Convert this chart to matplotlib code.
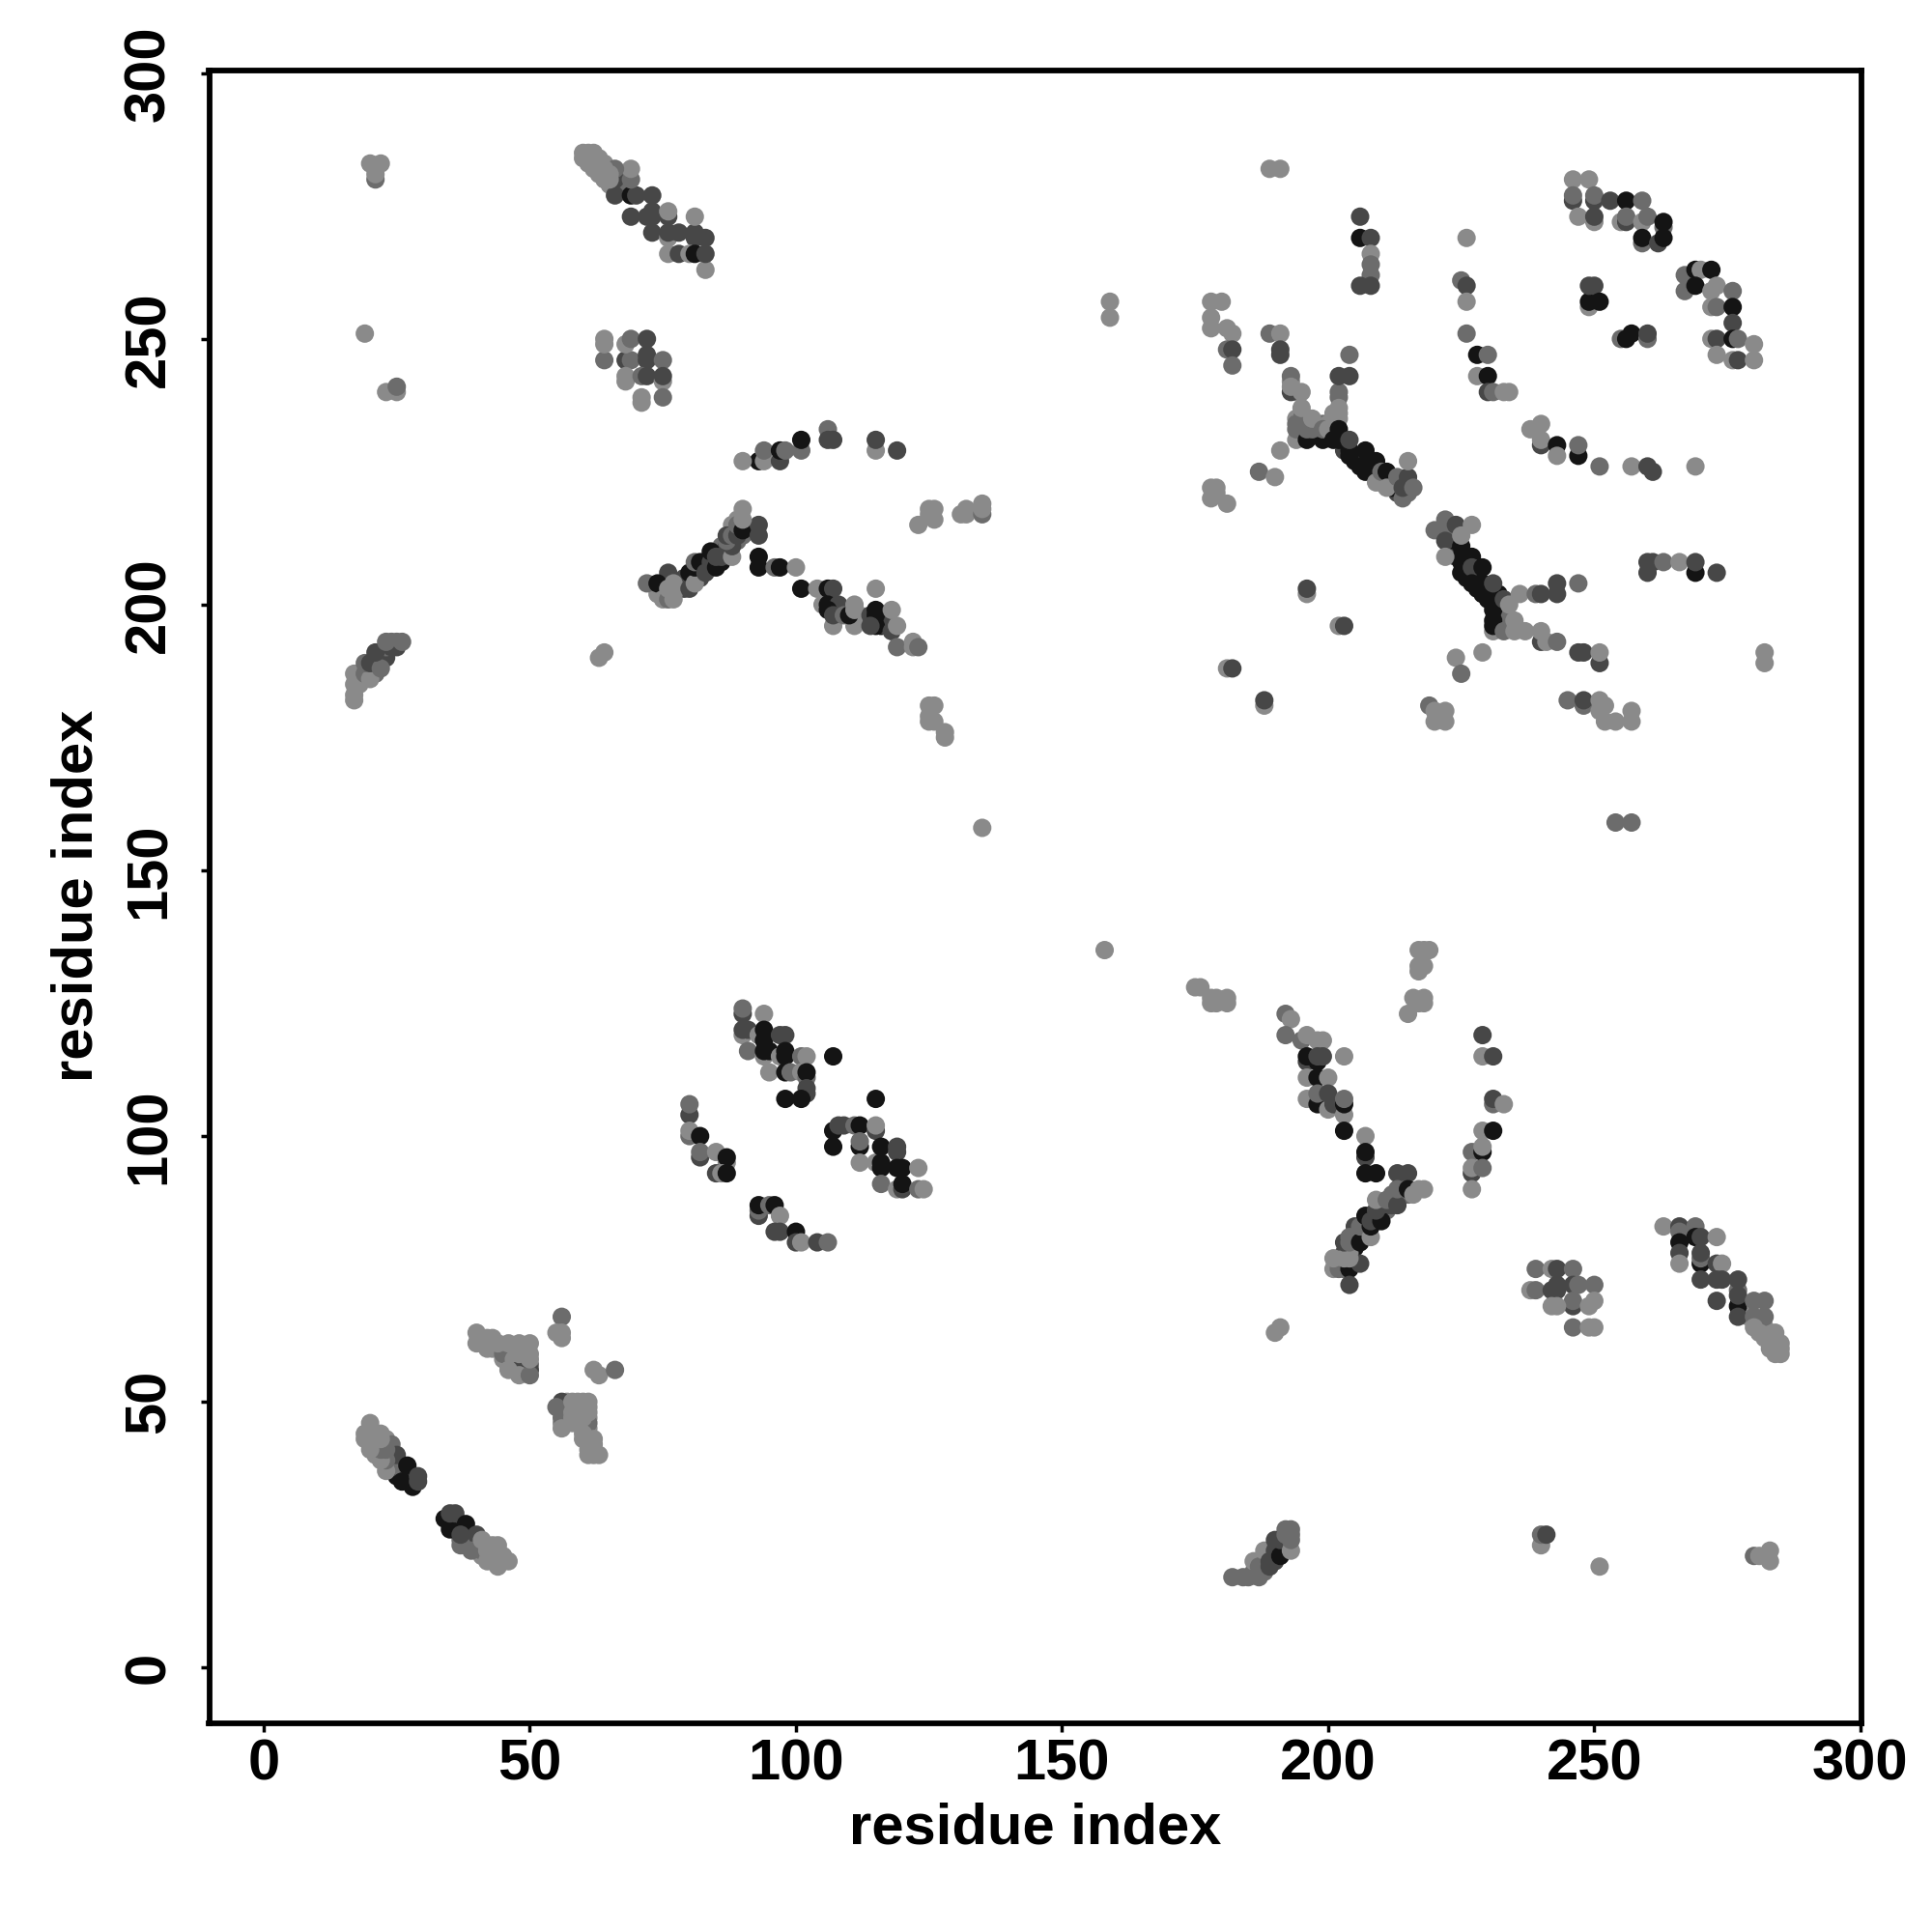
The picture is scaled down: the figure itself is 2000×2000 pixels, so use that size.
import matplotlib
matplotlib.use("Agg")
import matplotlib.pyplot as plt

# contacts per region: (residue x, residue y, tone)
# tone: L light grey, M mid grey, D dark grey, K near black
top_left_few = [(21,280,'M'),(21,281,'L'),(21,282,'L'),(20,283,'L'),(22,283,'L'),(19,251,'L'),
                (25,240,'L'),(23,240,'L'),(25,241,'M')]
top_band_fill = [(63,281,'L'),(62,282,'L'),(64,280,'L'),(66,279,'L'),(67,279,'M'),(67,281,'M'),(65,279,'L'),(63,284,'L'),(64,283,'L'),(65,282,'L')]
top_band = [(66,277,'D'),(69,277,'K'),(70,277,'D'),(73,277,'D'),(69,273,'D'),(72,273,'D'),(73,273,'D'),(73,274,'D'),
            (76,273,'D'),(76,274,'L'),(73,270,'D'),(76,269,'L'),(76,270,'D'),(78,270,'D'),(81,270,'D'),(81,269,'D'),(83,269,'D'),
            (81,273,'L'),(83,263,'L'),(76,266,'L'),(78,266,'D'),(80,266,'L'),(81,266,'K'),(83,266,'D'),
            (66,280,'D'),(69,280,'M'),(69,282,'L'),(66,282,'M'),
            (65,280,'L'),(64,281,'L'),(65,281,'L'),(63,282,'L'),(64,282,'L'),(61,283,'L'),(62,283,'L'),(63,283,'L'),
            (60,284,'L'),(61,284,'L'),(62,284,'L'),(60,285,'L'),(61,285,'L'),(62,285,'L')]
block_64_75 = [(64,246,'M'),(68,246,'D'),(69,246,'M'),(72,246,'D'),(72,247,'D'),(75,246,'M'),
               (64,249,'L'),(64,250,'L'),(68,249,'L'),(69,250,'M'),(72,250,'D'),
               (68,242,'L'),(68,243,'L'),(71,243,'M'),(72,243,'D'),(75,242,'L'),(75,243,'D'),
               (71,238,'L'),(71,239,'L'),(75,239,'M')]
arc_90_119 = [(93,227,'K'),(94,227,'L'),(90,227,'L'),(97,227,'D'),(94,229,'M'),(97,229,'K'),(98,229,'M'),(101,229,'M'),
              (101,231,'K'),(106,233,'M'),(106,231,'D'),(107,231,'D'),(115,229,'L'),(115,231,'D'),(119,229,'D')]
arch_left_fill = [(83,207,'K'),(83,208,'D'),(84,207,'K'),(84,209,'K'),(85,208,'K'),(86,208,'K'),(86,210,'D'),(86,211,'M'),(87,210,'D'),
                  (87,211,'D'),(88,212,'M'),(88,214,'M'),(89,212,'M'),(89,214,'D'),(88,215,'L'),(89,216,'L'),(90,213,'M'),(90,215,'D'),
                  (91,214,'M'),(82,205,'D'),(81,206,'M'),(79,203,'D'),(79,205,'D'),(80,204,'D'),(75,203,'D'),(74,203,'D'),(74,202,'L'),
                  (75,202,'L'),(76,202,'L'),(77,202,'L'),(77,203,'L')]
arch_left = [(72,204,'M'),(76,206,'D'),(74,204,'K'),(75,201,'L'),(76,201,'M'),(77,201,'L'),(76,203,'L'),(77,204,'L'),
             (80,203,'D'),(80,206,'K'),(81,204,'L'),(81,207,'K'),(81,208,'M'),(82,208,'K'),(83,206,'D'),
             (84,208,'D'),(84,210,'K'),(85,207,'K'),(85,209,'D'),(86,209,'D'),(88,209,'L'),(88,211,'D'),
             (87,212,'M'),(87,213,'D'),(88,213,'M'),(89,213,'D'),(89,215,'M'),(90,214,'K'),(93,215,'D'),(93,213,'D'),
             (90,216,'L'),(90,218,'L')]
arch_right_fill = [(106,201,'K'),(107,199,'K'),(106,202,'K'),(107,200,'D'),(108,199,'M'),(109,199,'D'),(114,197,'K'),(115,197,'K'),
                   (116,197,'K'),(116,196,'K'),(117,197,'D'),(117,196,'D'),(113,197,'D'),(112,198,'L')]
arch_right = [(93,209,'K'),(93,207,'K'),(96,207,'M'),(97,207,'K'),(100,207,'L'),(101,203,'K'),(104,203,'L'),
              (105,200,'L'),(106,203,'K'),(107,203,'D'),(106,200,'K'),(108,200,'D'),(106,199,'K'),(107,196,'L'),(107,198,'D'),
              (109,198,'M'),(111,196,'L'),(110,198,'K'),(111,199,'L'),(111,200,'L'),(115,203,'L'),
              (114,198,'D'),(115,199,'K'),(115,198,'K'),(115,196,'K'),(114,196,'D'),(118,195,'D'),(118,199,'L'),(119,196,'L'),
              (119,192,'M'),(122,193,'L'),(122,192,'L'),(123,192,'M')]
scatter_120_135 = [(123,215,'L'),(125,217,'L'),(125,218,'L'),(126,216,'L'),(126,218,'L'),(131,217,'L'),(132,217,'L'),(132,218,'L'),
                   (135,217,'M'),(135,218,'L'),(135,219,'L'),(63,190,'L'),(64,191,'L'),
                   (125,178,'L'),(126,178,'L'),(125,179,'L'),(125,181,'L'),(126,181,'L'),(128,175,'L'),(128,176,'L'),(135,158,'L'),
                   (159,257,'L'),(159,254,'L'),(158,135,'L')]
left_stripe_fill = [(18,186,'L'),(18,185,'L'),(18,187,'L'),(19,188,'M'),(20,188,'M'),(20,187,'M'),(21,190,'D'),(21,189,'M'),(22,190,'D'),
                    (22,191,'D'),(23,190,'D'),(23,192,'M'),(24,193,'M'),(25,193,'M'),(25,192,'D'),(21,187,'M'),(19,186,'L')]
left_stripe = [(17,182,'L'),(17,183,'L'),(17,185,'L'),(17,187,'L'),(19,187,'M'),(20,186,'L'),(19,189,'M'),(20,189,'D'),
               (22,188,'M'),(21,191,'D'),(24,192,'D'),(23,193,'M'),(26,193,'M')]
upper_far_left = [(189,282,'L'),(191,282,'L'),(178,257,'L'),(180,257,'L'),(178,254,'L'),(178,252,'L'),(181,252,'L'),(182,251,'L'),
                  (181,248,'M'),(182,248,'D'),(182,245,'M'),(178,222,'L'),(179,222,'L'),(178,220,'L'),(179,221,'L'),(181,219,'L'),
                  (187,225,'M'),(190,224,'L'),(191,229,'L'),(196,202,'L'),(196,203,'D'),(202,196,'L'),(203,196,'D'),
                  (181,188,'L'),(182,188,'D'),(188,181,'L'),(188,182,'D')]
column_206 = [(206,273,'D'),(206,269,'K'),(208,269,'D'),(208,266,'L'),(208,264,'M'),(208,262,'M'),(206,260,'D'),(208,260,'D')]
arc_226_269 = [(226,269,'L'),(225,261,'M'),(226,260,'D'),(226,257,'L'),(226,251,'M'),(228,247,'K'),(230,247,'M'),(228,243,'L'),
               (230,243,'K'),(230,240,'D'),(231,240,'M'),(233,240,'L'),(234,240,'L'),(238,233,'L'),(240,234,'L'),(240,230,'D'),(240,231,'L'),
               (243,230,'K'),(243,228,'L'),(247,228,'K'),(247,230,'M'),(251,226,'M'),(257,226,'L'),(260,226,'D'),(261,225,'D'),(269,226,'L')]
top_right_arc = [(246,280,'L'),(249,280,'L'),(246,276,'D'),(246,277,'M'),(250,276,'D'),(250,277,'M'),(253,276,'D'),(256,276,'K'),(259,276,'M'),
                 (247,273,'L'),(250,272,'L'),(250,273,'D'),(255,272,'L'),(256,272,'D'),(256,273,'M'),(259,272,'L'),(260,273,'M'),
                 (263,271,'M'),(263,272,'K'),(259,268,'M'),(259,269,'K'),(262,268,'D'),(263,269,'K'),
                 (267,262,'M'),(269,263,'K'),(270,263,'L'),(272,263,'K'),(267,259,'M'),(269,260,'K'),(272,259,'L'),(273,260,'L'),(276,259,'M'),
                 (272,256,'L'),(273,256,'M'),(276,256,'K'),(276,253,'D'),(272,250,'L'),(273,250,'D'),(276,250,'K'),(277,250,'M'),(280,249,'L'),
                 (273,247,'L'),(276,246,'L'),(277,246,'D'),(280,246,'L'),
                 (249,256,'L'),(249,257,'K'),(249,260,'D'),(250,260,'D'),(251,257,'K'),
                 (255,250,'M'),(256,250,'K'),(257,251,'K'),(260,250,'M'),(260,251,'D')]
fork_upper_fill = [(195,232,'D'),(195,233,'D'),(196,232,'K'),(197,232,'D'),(198,232,'D'),(200,232,'K'),(201,232,'K'),(194,235,'L'),(194,234,'M'),
                   (196,235,'L'),(196,234,'M'),(198,234,'L'),(199,234,'M'),(200,234,'L'),(201,235,'L'),(201,234,'L'),(202,235,'L'),(195,236,'L'),
                   (193,242,'L'),(194,240,'L')]
fork_upper = [(193,243,'M'),(193,240,'D'),(193,241,'L'),(195,240,'L'),(189,251,'M'),(191,251,'L'),(191,247,'D'),(191,248,'D'),
              (194,231,'L'),(194,233,'M'),(196,231,'K'),(199,231,'K'),(195,235,'M'),(195,237,'L'),(196,233,'M'),(197,233,'M'),(197,235,'L'),
              (199,233,'M'),(200,233,'L'),(202,240,'M'),(202,239,'M'),(201,236,'L'),(202,236,'L'),(202,237,'L'),
              (202,243,'D'),(204,243,'D'),(204,247,'M'),(202,233,'K')]
diagonal_upper_fill = [(201,231,'K'),(203,230,'K'),(203,229,'D'),(204,229,'K'),(205,228,'K'),(205,227,'K'),(206,227,'D'),(207,226,'K'),(208,226,'K'),
                       (208,225,'K'),(209,224,'K'),(210,224,'D'),(210,223,'K'),(211,224,'K'),(212,224,'D'),(212,223,'K'),(213,223,'K'),(213,221,'D'),
                       (214,221,'D'),(215,222,'D'),(215,221,'M')]
diagonal_upper = [(202,231,'K'),(204,228,'K'),(204,231,'D'),(206,226,'K'),(207,229,'K'),(207,225,'K'),(209,227,'K'),(209,223,'L'),
                  (210,225,'M'),(211,225,'K'),(212,222,'K'),(211,222,'L'),(213,224,'M'),(214,220,'M'),(214,222,'D'),(215,224,'D'),(215,227,'L'),(216,222,'M')]
diagonal_lower_fill = [(223,213,'D'),(223,211,'K'),(224,210,'K'),(224,209,'D'),(224,212,'K'),(225,209,'K'),(225,208,'K'),(226,208,'K'),(226,207,'K'),
                       (226,205,'K'),(227,206,'K'),(228,205,'K'),(228,206,'D'),(228,204,'K'),(228,203,'K'),(229,204,'K'),(229,203,'K'),(229,202,'K'),
                       (230,203,'K'),(230,202,'K'),(230,201,'K'),(232,202,'K'),(232,200,'D'),(232,198,'M'),(232,196,'D'),(233,197,'D'),(233,199,'M'),
                       (234,197,'M'),(231,197,'K'),(231,200,'K')]
diagonal_lower = [(220,214,'M'),(222,214,'M'),(222,216,'M'),(224,215,'D'),(222,212,'D'),(227,215,'L'),(222,209,'L'),(225,211,'K'),(225,213,'L'),
                  (225,206,'K'),(227,209,'K'),(227,207,'D'),(227,204,'K'),(229,207,'K'),(231,195,'L'),(231,196,'K'),(231,199,'K'),(231,202,'K'),(231,204,'D'),
                  (233,195,'M'),(233,201,'D'),(234,200,'L'),(236,202,'L'),(235,197,'L'),(235,195,'L'),(237,195,'L'),
                  (240,193,'D'),(240,195,'L'),(241,193,'L'),(243,193,'M'),(239,202,'M'),(240,202,'D'),(243,204,'D'),(243,202,'D'),(247,204,'M')]
right_of_diagonal = [(247,191,'D'),(248,191,'D'),(251,189,'D'),(251,191,'L'),
                     (260,206,'D'),(260,208,'D'),(261,208,'D'),(263,208,'M'),(266,208,'L'),(269,206,'K'),(269,208,'D'),(273,206,'D'),
                     (224,190,'L'),(229,191,'L'),(225,187,'M'),
                     (219,181,'M'),(220,178,'L'),(222,178,'L'),(220,180,'L'),(222,180,'L'),
                     (245,182,'M'),(248,181,'M'),(248,182,'D'),(251,180,'L'),(251,182,'L'),(252,181,'L'),(252,178,'L'),(254,178,'L'),(257,178,'L'),(257,180,'L'),
                     (282,191,'L'),(282,189,'L'),(254,159,'M'),(257,159,'M')]
block_90_102 = [(90,123,'D'),(90,124,'M'),(94,123,'L'),(90,119,'L'),(90,120,'D'),(91,120,'D'),(93,119,'L'),(94,118,'K'),(94,120,'K'),
                (97,119,'D'),(98,119,'D'),(91,116,'M'),(94,115,'L'),(94,116,'K'),(95,116,'K'),(97,115,'L'),(98,115,'K'),(98,116,'K'),
                (101,115,'M'),(102,115,'L'),(95,112,'L'),(98,112,'K'),(99,112,'M'),(101,112,'L'),(102,111,'M'),(102,112,'K'),
                (102,108,'D'),(102,109,'D'),(98,107,'K'),(101,107,'K'),(107,115,'K')]
block_107_124 = [(115,107,'K'),(107,101,'K'),(108,102,'D'),(109,102,'D'),(107,98,'K'),(111,102,'M'),(112,102,'K'),(115,101,'D'),(115,102,'L'),
                 (112,98,'K'),(112,99,'M'),(112,95,'L'),(115,95,'L'),(116,98,'K'),(119,97,'D'),(119,98,'D'),(116,94,'K'),(116,95,'K'),
                 (119,94,'K'),(120,94,'K'),(123,94,'L'),(116,91,'M'),(119,90,'L'),(120,90,'D'),(120,91,'K'),(123,90,'M'),(124,90,'L')]
block_80_106 = [(80,104,'D'),(80,106,'M'),(80,100,'M'),(80,101,'L'),(82,100,'K'),(82,96,'D'),(82,97,'M'),(85,97,'L'),(87,95,'L'),(87,96,'K'),
                (85,93,'D'),(86,93,'L'),(87,93,'K'),(93,85,'D'),(93,86,'M'),(93,87,'K'),(95,87,'M'),(96,87,'K'),(97,85,'L'),
                (96,82,'D'),(97,82,'D'),(100,82,'K'),(100,80,'D'),(101,80,'L'),(104,80,'D'),(106,80,'M')]
low_left_bands_fill = [(41,61,'L'),(42,60,'L'),(43,60,'L'),(44,60,'L'),(45,60,'L'),(46,60,'M'),(47,60,'L'),(49,60,'L'),(46,59,'L'),(47,59,'M'),(49,59,'L'),
                       (45,58,'L'),(46,58,'L'),(48,58,'L'),(49,58,'L'),(46,57,'L'),(47,57,'L'),(50,57,'M'),(49,57,'D'),(47,56,'M'),(49,56,'D')]
low_left_bands = [(45,59,'M'),(47,58,'L'),(48,56,'D'),(50,56,'D'),(46,56,'L'),(48,55,'L'),(50,55,'M'),(50,58,'L'),(48,59,'L'),(50,59,'L'),
                  (40,61,'L'),(40,63,'L'),(42,62,'L'),(43,62,'L'),(44,61,'L'),(46,61,'L'),(48,61,'L'),(50,61,'L'),
                  (56,66,'M'),(55,63,'L'),(56,63,'L'),(56,62,'L'),(62,56,'L'),(63,55,'L'),(66,56,'M')]
low_left_block_fill = [(57,50,'L'),(59,50,'L'),(57,48,'L'),(59,48,'L'),(60,49,'L'),(58,49,'L'),(61,49,'L'),(59,47,'L'),(60,46,'M'),(59,46,'L'),(58,46,'L'),
                       (61,47,'L'),(60,45,'L'),(61,45,'L'),(61,44,'L'),(61,43,'L'),(62,42,'L'),(62,41,'L'),(62,40,'L'),(60,43,'L'),(56,46,'L')]
low_left_block = [(56,50,'D'),(55,49,'M'),(56,48,'M'),(56,47,'M'),(56,45,'L'),(61,46,'M'),(58,47,'L'),(58,48,'L'),(58,50,'L'),(60,50,'L'),(60,48,'L'),(60,47,'L'),
                  (61,48,'L'),(61,50,'L'),(60,44,'L'),(62,43,'L'),(61,41,'L'),(61,40,'L'),(63,40,'L')]
low_left_diag_fill = [(21,43,'L'),(21,42,'M'),(21,41,'L'),(20,43,'L'),(20,44,'L'),(21,44,'L'),(22,42,'M'),(23,43,'L'),(24,42,'M'),(21,40,'L'),(22,40,'M'),
                      (23,40,'M'),(24,40,'M'),(24,39,'D'),(24,38,'D'),(24,37,'M'),(25,37,'D'),(25,36,'K'),(26,36,'K'),(26,37,'D'),(27,36,'D'),(27,35,'K'),
                      (28,35,'K'),(28,36,'D'),(26,38,'D')]
low_left_diag = [(25,38,'M'),(25,40,'D'),(27,38,'K'),(26,35,'K'),(28,34,'K'),(29,35,'D'),(29,36,'D'),(23,37,'L'),(23,39,'M'),(22,39,'L'),
                 (22,41,'M'),(23,41,'M'),(20,41,'L'),(20,42,'L'),(19,43,'L'),(19,44,'L'),(22,43,'L'),(22,44,'L'),(20,46,'L')]
low_left_diag2_fill = [(35,28,'D'),(36,28,'K'),(36,27,'D'),(36,26,'K'),(37,27,'D'),(37,26,'D'),(37,24,'M'),(38,25,'D'),(38,24,'M'),(38,23,'M'),(39,24,'M'),
                       (39,23,'L'),(40,23,'M'),(40,22,'M'),(41,23,'L'),(42,23,'L'),(43,22,'L'),(43,21,'L'),(43,20,'L'),(44,21,'L'),(44,20,'L'),(45,21,'L'),
                       (41,21,'L'),(42,21,'L')]
low_left_diag2 = [(35,26,'K'),(34,28,'K'),(35,29,'D'),(36,29,'D'),(38,27,'K'),(37,23,'M'),(37,25,'D'),(40,25,'D'),(39,22,'M'),(41,22,'M'),
                  (41,24,'L'),(43,23,'L'),(44,23,'L'),(42,22,'L'),(42,20,'L'),(44,19,'L'),(46,20,'L')]
mid_top_cluster = [(175,128,'L'),(176,128,'L'),(178,125,'L'),(178,126,'L'),(179,125,'L'),(179,126,'L'),(181,125,'L'),(181,126,'L'),
                   (217,135,'L'),(218,135,'L'),(219,135,'L'),(217,131,'L'),(217,132,'L'),(218,132,'L'),(216,126,'L'),(218,126,'L'),(217,125,'L'),(218,125,'L'),(215,123,'L')]
fork_lower_top = [(192,123,'M'),(193,122,'L'),(192,119,'M'),(195,118,'M'),(196,119,'L'),(198,118,'L'),(199,118,'L'),(196,114,'D'),(196,115,'K'),
                  (198,114,'K'),(198,115,'D'),(199,115,'D'),(203,115,'L'),(196,111,'L'),(198,111,'K'),(200,111,'L'),(196,107,'L'),(198,106,'K'),(198,108,'M'),
                  (200,105,'L'),(200,108,'D'),(201,106,'D'),(203,104,'L'),(203,106,'K'),(203,107,'M'),(203,101,'K'),
                  (207,100,'L'),(207,96,'D'),(207,97,'K'),(207,93,'K'),(209,93,'K')]
fork_lower_bottom_fill = [(204,79,'K'),(205,81,'D'),(205,79,'K'),(205,83,'D'),(206,82,'K'),(206,81,'D'),(207,83,'K'),(207,82,'D'),(208,85,'D'),(209,85,'K'),
                          (209,84,'K'),(210,85,'K'),(210,86,'D'),(211,86,'M'),(211,87,'D'),(212,87,'D'),(212,88,'D'),(213,88,'M'),(214,89,'M'),(214,90,'L'),
                          (215,89,'M'),(202,77,'L'),(202,76,'M'),(203,76,'M'),(203,75,'M'),(203,78,'D'),(204,78,'L')]
fork_lower_bottom = [(213,93,'D'),(215,93,'D'),(201,75,'L'),(202,75,'M'),(204,75,'K'),(206,76,'D'),(204,72,'D'),(201,77,'L'),(203,77,'L'),(204,77,'L'),
                     (203,80,'D'),(204,80,'M'),(204,81,'M'),(206,80,'K'),(206,83,'M'),(208,81,'L'),(208,83,'K'),(207,85,'K'),(208,84,'D'),(210,84,'K'),
                     (209,86,'D'),(210,87,'D'),(209,88,'L'),(211,88,'M'),(212,89,'M'),(213,87,'D'),(213,90,'M'),(215,90,'K'),(216,89,'L'),(217,90,'L'),(218,90,'L')]
right_column = [(229,119,'D'),(229,115,'L'),(231,115,'D'),(231,106,'M'),(231,107,'D'),(233,106,'L'),(229,101,'L'),(231,101,'K'),(227,97,'M'),(229,97,'K'),(229,98,'L'),
                (227,93,'D'),(227,94,'L'),(229,94,'M'),(227,90,'L')]
block_238_250 = [(239,75,'M'),(242,75,'L'),(243,75,'D'),(246,75,'M'),(238,71,'L'),(239,71,'M'),(242,71,'D'),(243,71,'D'),(243,72,'D'),(246,72,'D'),(247,72,'M'),(250,72,'M'),
                 (246,68,'D'),(246,69,'M'),(242,68,'L'),(243,68,'L'),(249,68,'L'),(250,69,'L'),(246,64,'M'),(249,64,'L'),(250,64,'L')]
low_right_fill = [(279,66,'L'),(280,65,'L'),(281,65,'L'),(281,64,'L'),(282,64,'L'),(282,63,'L'),(283,63,'L'),(283,62,'L'),(284,61,'L'),(284,63,'L'),(285,60,'L')]
low_right_diag = [(263,83,'L'),(266,83,'D'),(269,83,'M'),(266,82,'M'),(266,80,'K'),(266,78,'D'),(266,76,'L'),(269,81,'K'),(270,81,'D'),(273,81,'L'),
                  (270,76,'K'),(270,77,'M'),(270,78,'D'),(273,76,'D'),(274,76,'L'),(270,73,'D'),(273,73,'D'),(274,73,'D'),(273,69,'D'),
                  (277,71,'M'),(277,68,'K'),(277,70,'D'),(277,73,'D'),(277,66,'D'),(280,69,'M'),(282,69,'M'),(280,66,'M'),(282,66,'M'),
                  (280,64,'L'),(281,63,'L'),(282,62,'L'),(283,61,'L'),(284,62,'L'),(283,60,'L'),(284,60,'L'),(285,61,'L'),(285,59,'L'),(284,59,'L')]
bottom_edge_fill = [(186,18,'M'),(187,18,'M'),(188,18,'M'),(188,20,'M'),(188,19,'M'),(189,21,'D'),(190,20,'D'),(190,21,'K'),(190,23,'D'),(191,22,'D'),(191,23,'D'),
                    (192,22,'M'),(192,23,'M'),(192,24,'M'),(192,26,'M'),(193,25,'M'),(187,20,'L'),(188,21,'M')]
bottom_edge = [(182,17,'M'),(184,17,'M'),(185,17,'M'),(187,17,'M'),(186,20,'L'),(187,19,'M'),(188,22,'L'),(189,19,'D'),(189,20,'D'),(190,22,'D'),(190,24,'D'),
               (191,21,'K'),(191,24,'D'),(193,22,'L'),(193,24,'M'),(192,25,'M'),(193,26,'M'),
               (240,23,'L'),(240,25,'M'),(241,25,'D'),(251,19,'L'),(280,21,'M'),(281,21,'L'),(283,22,'L'),(283,20,'L'),(190,63,'L'),(191,64,'L')]

regions = [top_left_few, top_band_fill, top_band, block_64_75, arc_90_119, arch_left_fill, arch_left, arch_right_fill, arch_right,
           scatter_120_135, left_stripe_fill, left_stripe, upper_far_left, column_206, arc_226_269, top_right_arc,
           fork_upper_fill, fork_upper, diagonal_upper_fill, diagonal_upper, diagonal_lower_fill, diagonal_lower,
           right_of_diagonal, block_90_102, block_107_124, block_80_106, low_left_bands_fill, low_left_bands,
           low_left_block_fill, low_left_block, low_left_diag_fill, low_left_diag, low_left_diag2_fill, low_left_diag2,
           mid_top_cluster, fork_lower_top, fork_lower_bottom_fill, fork_lower_bottom, right_column,
           block_238_250, low_right_fill, low_right_diag, bottom_edge_fill, bottom_edge]

ticks = [0, 50, 100, 150, 200, 250, 300]

tone_colors = {'L': '#8a8a8a', 'M': '#6c6c6c', 'D': '#474747', 'K': '#141414'}

plt.rcParams['font.family'] = ['Liberation Sans', 'DejaVu Sans']
plt.rcParams['font.weight'] = 'bold'

fig = plt.figure(figsize=(20, 20), dpi=100)
ax = fig.add_axes([216.5/2000, 1 - 1784/2000, (1927 - 216.5)/2000, (1784 - 73)/2000])

for region in regions:
    xs = [p[0] for p in region]
    ys = [p[1] for p in region]
    cs = [tone_colors[p[2]] for p in region]
    ax.scatter(xs, ys, s=188, c=cs, linewidths=0, zorder=3)

ax.set_xlim(-10.25, 300.2)
ax.set_ylim(-10.5, 300.5)
ax.set_xticks(ticks)
ax.set_yticks(ticks)
ax.tick_params(axis='both', length=6.5, width=2.5, labelsize=43)
ax.tick_params(axis='x', pad=5)
ax.tick_params(axis='y', pad=18)
for lab in ax.get_yticklabels():
    lab.set_rotation(90)
    lab.set_va('center')
for sp in ax.spines.values():
    sp.set_linewidth(4.2)

fig.text(1072/2000, 1 - 1893/2000, 'residue index', ha='center', va='center', fontsize=43, fontweight='bold')
fig.text(80/2000, 1 - 927/2000, 'residue index', ha='center', va='center', rotation=90, fontsize=43, fontweight='bold')

fig.savefig('out.png', dpi=100, facecolor='white')
